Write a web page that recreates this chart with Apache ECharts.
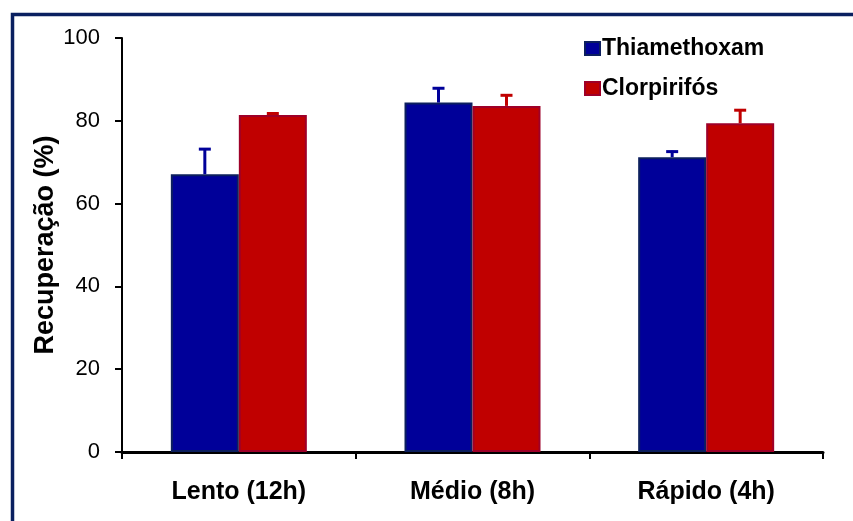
<!DOCTYPE html>
<html>
<head>
<meta charset="utf-8">
<script src="https://cdn.jsdelivr.net/npm/echarts@6/dist/echarts.min.js"></script>
<style>
  html, body { margin: 0; padding: 0; background: #fff; }
  #chart { width: 853px; height: 521px; }
</style>
</head>
<body>
<div id="chart"></div>
<script>
'use strict';
// Recuperação por velocidade de secagem
const categories = ['Lento (12h)', 'Médio (8h)', 'Rápido (4h)'];
const seriesNames = ['Thiamethoxam', 'Clorpirifós'];
const thiaValues = [67.1, 84.4, 71.2];
const thiaErrors = [6.3, 3.7, 1.6];
const clorValues = [81.4, 83.6, 79.4];
const clorErrors = [0.6, 2.8, 3.4];
const yTicks = [0, 20, 40, 60, 80, 100];

const BAR_W = 68;
const COLOR = {
  thia: '#000099', thiaBorder: '#0c1f5e',
  clor: '#c00000', clorBorder: '#9e0028',
  frame: '#0a2060', axis: '#000'
};

// barra de erro (só para cima), deslocada meia barra do centro da categoria
function errorSeries(name, values, errors, color, dir) {
  return {
    name: name, type: 'custom', z: 5, silent: true,
    data: values.map((v, i) => [i, v, v + errors[i]]),
    renderItem: (params, api) => {
      const base = api.coord([api.value(0), api.value(1)]);
      const top = api.coord([api.value(0), api.value(2)]);
      const x = base[0] + dir * BAR_W / 2;
      const style = { stroke: color, lineWidth: 3 };
      return {
        type: 'group',
        children: [
          { type: 'line', shape: { x1: x, y1: base[1], x2: x, y2: top[1] }, style: style },
          { type: 'line', shape: { x1: x - 6, y1: top[1] + 1, x2: x + 6, y2: top[1] + 1 }, style: style }
        ]
      };
    }
  };
}

const chart = echarts.init(document.getElementById('chart'));
chart.setOption({
  backgroundColor: '#fff',
  animation: false,
  graphic: [{
    type: 'rect', left: 10, top: 12, z: 100, silent: true,
    shape: { x: 0, y: 0, width: 900, height: 600 },
    style: { fill: 'none', stroke: COLOR.frame, lineWidth: 3.5 }
  }],
  legend: {
    data: seriesNames, orient: 'vertical', left: 579, top: 32,
    icon: 'rect', itemWidth: 15, itemHeight: 13, itemGap: 17,
    textStyle: { fontFamily: 'Liberation Sans', fontWeight: 'bold', fontSize: 23, lineHeight: 23, color: '#000', padding: [0, 0, 0, -3] }
  },
  grid: { left: 122, right: 30, top: 38, bottom: 69, containLabel: false },
  xAxis: {
    type: 'category', data: categories,
    axisLine: { lineStyle: { color: COLOR.axis, width: 3 } },
    axisTick: { show: true, length: 7, lineStyle: { color: COLOR.axis, width: 2 } },
    axisLabel: { margin: 28, color: '#000', fontFamily: 'Liberation Sans', fontWeight: 'bold', fontSize: 25 }
  },
  yAxis: {
    type: 'value', min: yTicks[0], max: yTicks[yTicks.length - 1], interval: 20,
    name: 'Recuperação (%)', nameLocation: 'middle', nameGap: 63, nameRotate: 90,
    nameMoveOverlap: false,
    nameTextStyle: { color: '#000', fontFamily: 'Liberation Sans', fontWeight: 'bold', fontSize: 27 },
    axisLine: { show: true, lineStyle: { color: COLOR.axis, width: 2 } },
    axisTick: { show: true, length: 7, lineStyle: { color: COLOR.axis, width: 2 } },
    axisLabel: { margin: 22, color: '#000', fontFamily: 'Liberation Sans', fontSize: 22 },
    splitLine: { show: false }
  },
  series: [
    { name: seriesNames[0], type: 'bar', data: thiaValues, barWidth: BAR_W, barGap: '0%',
      itemStyle: { color: COLOR.thia, borderColor: COLOR.thiaBorder, borderWidth: 2 } },
    { name: seriesNames[1], type: 'bar', data: clorValues, barWidth: BAR_W, barGap: '0%',
      itemStyle: { color: COLOR.clor, borderColor: COLOR.clorBorder, borderWidth: 2 } },
    errorSeries('errThia', thiaValues, thiaErrors, COLOR.thia, -1),
    errorSeries('errClor', clorValues, clorErrors, COLOR.clor, 1)
  ]
});
</script>
</body>
</html>
